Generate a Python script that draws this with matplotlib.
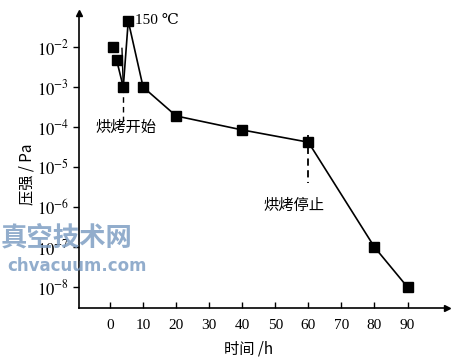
import matplotlib
matplotlib.use("Agg")
import matplotlib.pyplot as plt
from matplotlib.ticker import FixedLocator, NullLocator

# Data
time_h = [1, 2, 4, 5.5, 10, 20, 40, 60, 80, 90]
pressure_pa = [1e-2, 4.7e-3, 1e-3, 4.5e-2, 1e-3, 1.9e-4, 8.5e-5, 4.2e-5, 1e-7, 1e-8]
branch_time = [3.6, 4]
branch_pressure = [9.3e-3, 1e-3]
xticks = [0, 10, 20, 30, 40, 50, 60, 70, 80, 90]
yticks = [1e-2, 1e-3, 1e-4, 1e-5, 1e-6, 1e-7, 1e-8]
ytick_labels = ["$10^{-2}$", "$10^{-3}$", "$10^{-4}$", "$10^{-5}$", "$10^{-6}$", "$10^{-7}$", "$10^{-8}$"]
bake_start_t, bake_stop_t = 4, 60

plt.rcParams['mathtext.fontset'] = 'stix'
serif = ['Liberation Serif', 'DejaVu Serif']
cjk = ['Noto Sans CJK SC', 'DejaVu Sans']

fig = plt.figure(figsize=(4.54, 3.64), dpi=100)
ax = fig.add_axes([0.174, 0.154, 0.811, 0.810])

ax.set_yscale('log')
ax.set_xlim(-9.4, 102)
ax.set_ylim(10**-8.52, 10**-1.15)

ax.plot(time_h[1:], pressure_pa[1:], color='black', lw=1.2, zorder=2)
ax.plot(branch_time, branch_pressure, color='black', lw=1.0, zorder=2)
ax.plot(time_h, pressure_pa, linestyle='none', marker='s', ms=6.5, color='black', zorder=3)

# dashed markers for bake start / stop
ax.plot([bake_start_t, bake_start_t], [1e-3, 10**-3.85], color='black', lw=1.0, ls=(0, (4, 3)))
ax.plot([bake_stop_t, bake_stop_t], [10**-4.2, 10**-5.4], color='black', lw=1.3, ls=(0, (4, 2.5)))

ax.text(7.5, 4.5e-2, "150 ℃", fontsize=11, family=serif + ['DejaVu Sans'], va='center', ha='left')
ax.text(-4.5, 10**-4.0, "烘烤开始", fontsize=11, family=cjk, va='center', ha='left')
ax.text(46.5, 10**-5.95, "烘烤停止", fontsize=11, family=cjk, va='center', ha='left')

ax.xaxis.set_major_locator(FixedLocator(xticks))
ax.set_xticklabels([str(t) for t in xticks], fontsize=11, family=serif)
ax.yaxis.set_major_locator(FixedLocator(yticks))
ax.yaxis.set_minor_locator(NullLocator())
ax.set_yticklabels(ytick_labels, fontsize=12)
ax.tick_params(axis='x', direction='in', length=4, width=1, pad=8)
ax.tick_params(axis='y', direction='out', length=4, width=1, pad=3)

for s in ['top', 'right']:
    ax.spines[s].set_visible(False)
for s in ['left', 'bottom']:
    ax.spines[s].set_linewidth(1.2)

ax.plot(1, 0, marker='>', color='black', ms=5, transform=ax.transAxes, clip_on=False)
ax.plot(0, 1, marker='^', color='black', ms=5, transform=ax.transAxes, clip_on=False)

fig.text(0.547, 0.04, "时间 /h", fontsize=11, family=cjk, ha='center', va='center')
fig.text(0.06, 0.52, "压强 / Pa", fontsize=11, family=cjk, ha='center', va='center', rotation=90)

# watermark
fig.text(0.002, 0.345, "真空技术网", fontsize=19, family=cjk, color='#7f9fc4', alpha=0.85,
         ha='left', va='center', fontweight='bold')
fig.text(0.015, 0.27, "chvacuum.com", fontsize=12, family=['DejaVu Sans'], color='#7f9fc4',
         alpha=0.85, ha='left', va='center', fontweight='bold')

fig.savefig("out.png", dpi=100)
